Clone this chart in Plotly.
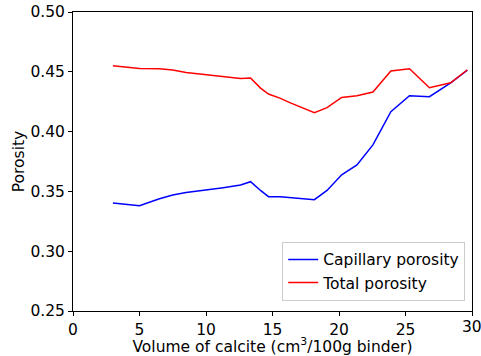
import plotly.graph_objects as go

calcite_volume = [3.0, 5.0, 6.5, 7.5, 8.5, 9.7, 11.3, 12.6, 13.35, 14.1, 14.7, 15.6, 16.3,
                  18.15, 19.1, 20.2, 21.35, 22.55, 23.9, 25.3, 26.8, 28.4, 29.65]
capillary_porosity = [0.3403, 0.3381, 0.3438, 0.3470, 0.3490, 0.3505, 0.3531, 0.3553, 0.3581,
                      0.3508, 0.3456, 0.3456, 0.3450, 0.3431, 0.3508, 0.3639, 0.3722, 0.3889,
                      0.4167, 0.4300, 0.4292, 0.4408, 0.4513]
total_porosity = [0.4550, 0.4528, 0.4526, 0.4515, 0.4495, 0.4480, 0.4458, 0.4444, 0.4448,
                  0.4364, 0.4314, 0.4278, 0.4242, 0.4158, 0.4200, 0.4286, 0.4300, 0.4331,
                  0.4506, 0.4525, 0.4367, 0.4408, 0.4517]
x_ticks = [0, 5, 10, 15, 20, 25, 30]
y_ticks = [0.25, 0.30, 0.35, 0.40, 0.45, 0.50]

fig = go.Figure()
fig.add_trace(go.Scatter(x=calcite_volume, y=capillary_porosity, mode="lines",
                         name="Capillary porosity", line=dict(color="#0000ff", width=1.5)))
fig.add_trace(go.Scatter(x=calcite_volume, y=total_porosity, mode="lines",
                         name="Total porosity", line=dict(color="#ff0000", width=1.5)))

FS = 15.5
font = dict(family="DejaVu Sans", size=FS, color="black")
axis_common = dict(showgrid=False, zeroline=False, showline=True, linecolor="black",
                   linewidth=1, mirror=True, ticks="outside", ticklen=4, tickwidth=1,
                   tickcolor="black", tickfont=font, automargin=False)
# last x tick label is drawn as an annotation so it is not dropped at the page edge
x_ticktext = [str(v) for v in x_ticks[:-1]] + [""]
fig.update_xaxes(range=[0, 30], tickvals=x_ticks, ticktext=x_ticktext,
                 title=dict(text="Volume of calcite (cm<sup>3</sup>/100g binder)", font=font, standoff=0),
                 **axis_common)
fig.update_yaxes(range=[0.25, 0.50], tickvals=y_ticks, ticktext=[f"{v:.2f}" for v in y_ticks],
                 title=dict(text="Porosity", font=font, standoff=1), **axis_common)
fig.add_annotation(x=x_ticks[-1], y=0, xref="x", yref="paper", text=str(x_ticks[-1]),
                   showarrow=False, xanchor="center", yanchor="top", yshift=-5,
                   font=font)
fig.update_layout(
    width=481, height=356,
    margin=dict(l=73, r=9, t=12, b=45),
    plot_bgcolor="white", paper_bgcolor="white",
    font=font,
    showlegend=True,
    legend=dict(x=0.983, y=0.034, xanchor="right", yanchor="bottom",
                bordercolor="#cccccc", borderwidth=1, bgcolor="white",
                font=dict(family="DejaVu Sans", size=FS, color="black"),
                tracegroupgap=0),
)
fig.write_html("out.html")
